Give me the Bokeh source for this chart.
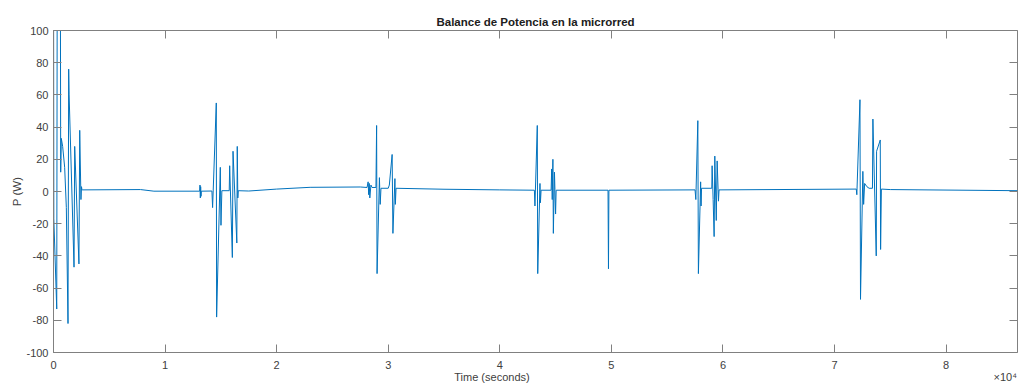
from bokeh.plotting import figure
from bokeh.models import Range1d, FixedTicker, LinearAxis
from bokeh.embed import file_html
from bokeh.resources import INLINE

# ---- data (time in seconds, power in W) ----
burst1_t = [0, 30, 290, 340, 610, 645, 700, 820, 1000, 1150, 1300, 1360, 1400,
            1840, 1900, 2280, 2350, 2460, 2510, 2550, 2600]
burst1_p = [160, -17, -73, 160, 160, 12, 33, 28, 15, -10, -82, 76, 60,
            -47, 28, -45, 38, -5, 3, 1, 1]

quiet1_t = [7800, 9000, 13100, 13130, 13160, 13190, 13220, 13250, 14200]
quiet1_p = [1.2, 0.2, 0.2, 4, -4, 3, -3, 0.2, 0.3]

burst2_t = [14260, 14590, 14620, 14950, 15010, 15090,
            15750, 15790, 16030, 16090, 16430, 16470, 16520, 16560]
burst2_p = [-10, 55, -78, 15, -21, 0.5,
            0.5, 16, -41, 25, -32, 28, -4, 0.5]

quiet2_t = [17500, 20000, 23000, 27500]
quiet2_p = [0.3, 1.5, 2.6, 2.8]

burst3_t = [28100, 28200, 28250, 28300, 28350, 28450, 28550,
            28900, 28960, 29000, 29210, 29280, 29350,
            30000, 30100, 30350, 30420, 30600, 30640, 30700]
burst3_p = [2.5, 6, -2, 5, -4, 4, 2.5,
            2.5, 41, -51, 8.6, -8, 2,
            2, 4, 23, -26, 8, -8, 2]

quiet3_t = [35000, 40000, 43100]
quiet3_p = [1.4, 1.0, 0.8]

burst4_t = [43150, 43360, 43400, 43600, 43640, 43700,
            44600, 44650, 44700, 44760, 44800, 44900, 45000, 45050,
            49700, 49740, 49780]
burst4_p = [-9, 41, -51, 5, -7, 0.8,
            0.8, 14, -5, 20, -26, 12, -14, 0.8,
            0.8, -48, 0.8]

burst5_t = [57500, 57570, 57750, 57800, 58000, 58040, 58080,
            59000, 59030, 59120, 59210, 59270, 59400, 59480, 59600, 59650]
burst5_p = [1, -5, 44, -51, 6, -9, 2,
            2, 16, -5, -28, 22, -18, 19, -6, 1]

burst6_t = [71950, 72000, 72280, 72330, 72540, 72610, 72700, 72900, 73100,
            73400, 73440, 73740, 73770, 74100, 74130, 74200, 75000, 86400]
burst6_p = [1.5, -2, 57, -67, 12.5, -8, 5, 3, 2,
            2, 45, -40, 25, 32, -36, 1.5, 1.2, 0.5]

x_ticks = [0, 10000, 20000, 30000, 40000, 50000, 60000, 70000, 80000]
x_tick_labels = ["0", "1", "2", "3", "4", "5", "6", "7", "8"]
y_ticks = [-100, -80, -60, -40, -20, 0, 20, 40, 60, 80, 100]
y_tick_labels = ["-100", "-80", "-60", "-40", "-20", "0", "20", "40", "60", "80", "100"]

x_title = "Time (seconds)"
x_title_at = 39300          # the label sits a little left of the centre
x_exponent = "×10⁴"
x_exponent_at = 85300

time_s = burst1_t + quiet1_t + burst2_t + quiet2_t + burst3_t + quiet3_t + burst4_t + burst5_t + burst6_t
power_w = burst1_p + quiet1_p + burst2_p + quiet2_p + burst3_p + quiet3_p + burst4_p + burst5_p + burst6_p

FONT = "Liberation Sans"
TXT = "#404040"
LINE = "#808080"

p = figure(width=1018, height=385, output_backend="svg", toolbar_location=None,
           x_range=Range1d(0, 86400), y_range=Range1d(-100, 100),
           min_border_left=53, min_border_right=1, min_border_top=30, min_border_bottom=31,
           title="Balance de Potencia en la microrred")
p.title.align = "center"
p.title.text_font = FONT
p.title.text_font_size = "11.5px"
p.title.text_font_style = "bold"
p.title.text_color = "#202020"
p.title.standoff = 6
p.title.offset = 0

p.xgrid.visible = False
p.ygrid.visible = False
p.outline_line_color = LINE
p.outline_line_width = 1
p.background_fill_color = "white"
p.border_fill_color = "white"

p.line(time_s, power_w, line_color="#0072BD", line_width=1.0)

# bottom axis: labels only (incl. axis title and exponent on a second line)
xa = p.xaxis[0]
lab_ticks = x_ticks + [x_title_at, x_exponent_at]
lab_text = x_tick_labels + ["\n" + x_title, "\n" + x_exponent]
xa.ticker = FixedTicker(ticks=lab_ticks)
xa.major_label_overrides = dict(zip(lab_ticks, lab_text))
xa.major_tick_line_color = None
xa.axis_line_color = None
xa.minor_tick_line_color = None
xa.major_label_text_font = FONT
xa.major_label_text_font_size = "11px"
xa.major_label_text_color = TXT
xa.major_label_text_line_height = 1.0
xa.major_label_standoff = 0

ya = p.yaxis[0]
ya.ticker = FixedTicker(ticks=y_ticks)
ya.major_label_overrides = dict(zip(y_ticks, y_tick_labels))
ya.axis_label = "P (W)"
ya.axis_line_color = LINE
ya.major_tick_line_color = LINE
ya.major_tick_in = 8
ya.major_tick_out = 0
ya.minor_tick_line_color = None
ya.major_label_text_font = FONT
ya.major_label_text_font_size = "11px"
ya.major_label_text_color = TXT
ya.axis_label_text_font = FONT
ya.axis_label_text_font_size = "11.5px"
ya.axis_label_text_font_style = "normal"
ya.axis_label_text_color = TXT
ya.major_label_standoff = 5
ya.axis_label_standoff = 0

# box ticks on bottom, top and right (no labels)
def tick_axis(ticks):
    ax = LinearAxis(ticker=FixedTicker(ticks=ticks), major_label_overrides={t: "" for t in ticks})
    ax.axis_line_color = None
    ax.major_tick_line_color = LINE
    ax.major_tick_in = 8
    ax.major_tick_out = 0
    ax.minor_tick_line_color = None
    ax.major_label_standoff = 0
    ax.major_label_text_font_size = "1px"
    return ax

bottom_ticks = tick_axis(x_ticks)
p.below = [bottom_ticks, xa]
p.add_layout(tick_axis(x_ticks), "above")
p.add_layout(tick_axis(y_ticks), "right")

open("out.html", "w").write(file_html(p, INLINE))
